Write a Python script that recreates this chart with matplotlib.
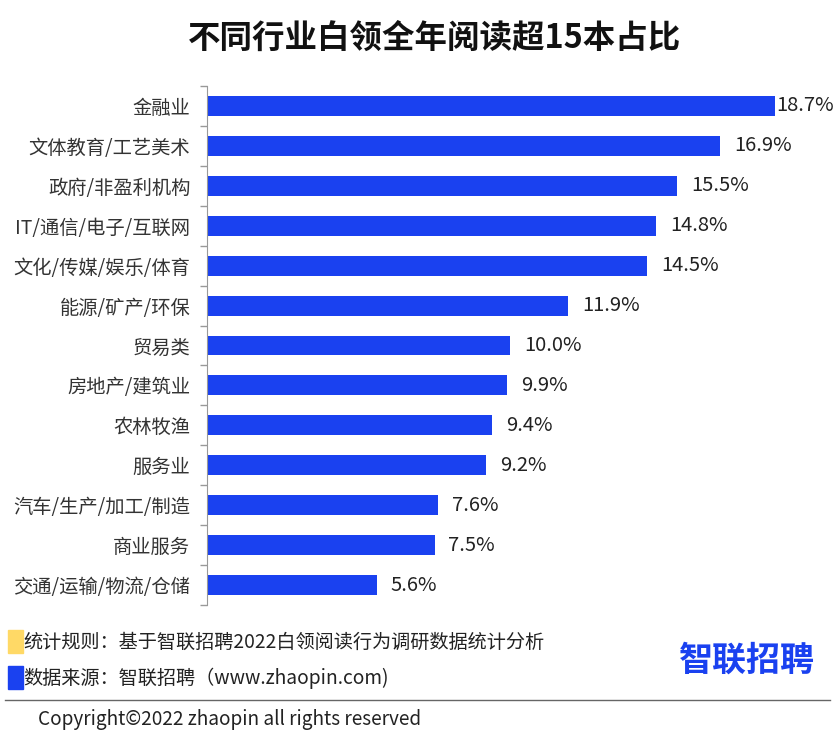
import matplotlib
matplotlib.use('Agg')
import matplotlib.pyplot as plt
import numpy as np

plt.rcParams['font.family'] = ['Noto Sans CJK SC', 'DejaVu Sans']

# 行业与占比数据
categories = ['金融业', '文体教育/工艺美术', '政府/非盈利机构', 'IT/通信/电子/互联网',
              '文化/传媒/娱乐/体育', '能源/矿产/环保', '贸易类', '房地产/建筑业',
              '农林牧渔', '服务业', '汽车/生产/加工/制造', '商业服务', '交通/运输/物流/仓储']
values = [18.7, 16.9, 15.5, 14.8, 14.5, 11.9, 10.0, 9.9, 9.4, 9.2, 7.6, 7.5, 5.6]

title = '不同行业白领全年阅读超15本占比'
note1 = '统计规则：基于智联招聘2022白领阅读行为调研数据统计分析'
note2 = '数据来源：智联招聘（www.zhaopin.com)'
copyright_text = 'Copyright©2022 zhaopin all rights reserved'

blue = '#1a41f0'
yellow = '#ffd966'

fig = plt.figure(figsize=(8.4, 7.33), dpi=100)
ax = fig.add_axes([0.2464, 0.1746, 0.7226, 0.7081])

y = np.arange(len(categories))
ax.barh(y, values, height=0.5, color=blue)
for yi, v in zip(y, values):
    # 最长的条标签贴着条尾，其余留出间距
    off = 1 if v == max(values) else 10
    ax.annotate('%.1f%%' % v, (v, yi), xytext=(off, 0), textcoords='offset points',
                va='center', ha='left', fontsize=14.5, color='#222222')

ax.set_xlim(0, 20)
ax.set_ylim(len(categories) - 0.5, -0.5)
ax.set_yticks(y)
ax.set_yticklabels(categories, fontsize=13.9, color='#333333')
ax.set_yticks(np.arange(-0.5, len(categories), 1), minor=True)
ax.tick_params(axis='y', which='major', length=0, pad=12)
ax.tick_params(axis='y', which='minor', length=5, color='#999999', width=1)
ax.set_xticks([])
for s in ['top', 'right', 'bottom']:
    ax.spines[s].set_visible(False)
ax.spines['left'].set_color('#999999')

fig.text(435 / 840, 0.948, title, ha='center', va='center', fontsize=23.4, fontweight='bold', color='#111111')

# 底部说明
fig.patches.append(plt.Rectangle((8 / 840, 1 - 653 / 733), 15 / 840, 23 / 733,
                                 transform=fig.transFigure, color=yellow))
fig.patches.append(plt.Rectangle((8 / 840, 1 - 689 / 733), 15 / 840, 23 / 733,
                                 transform=fig.transFigure, color=blue))
fig.text(23 / 840, 1 - 642 / 733, note1, ha='left', va='center', fontsize=13.8, color='#222222')
fig.text(23 / 840, 1 - 678 / 733, note2, ha='left', va='center', fontsize=13.8, color='#222222')
fig.text(815 / 840, 1 - 660 / 733, '智联招聘', ha='right', va='center', fontsize=24.5,
         fontweight='bold', color=blue)
fig.add_artist(plt.Line2D([5 / 840, 830 / 840], [1 - 700 / 733, 1 - 700 / 733],
                          transform=fig.transFigure, color='#666666', linewidth=1))
fig.text(38 / 840, 1 - 719 / 733, copyright_text, ha='left', va='center', fontsize=13.7, color='#222222')

fig.savefig('out.png', dpi=100)
